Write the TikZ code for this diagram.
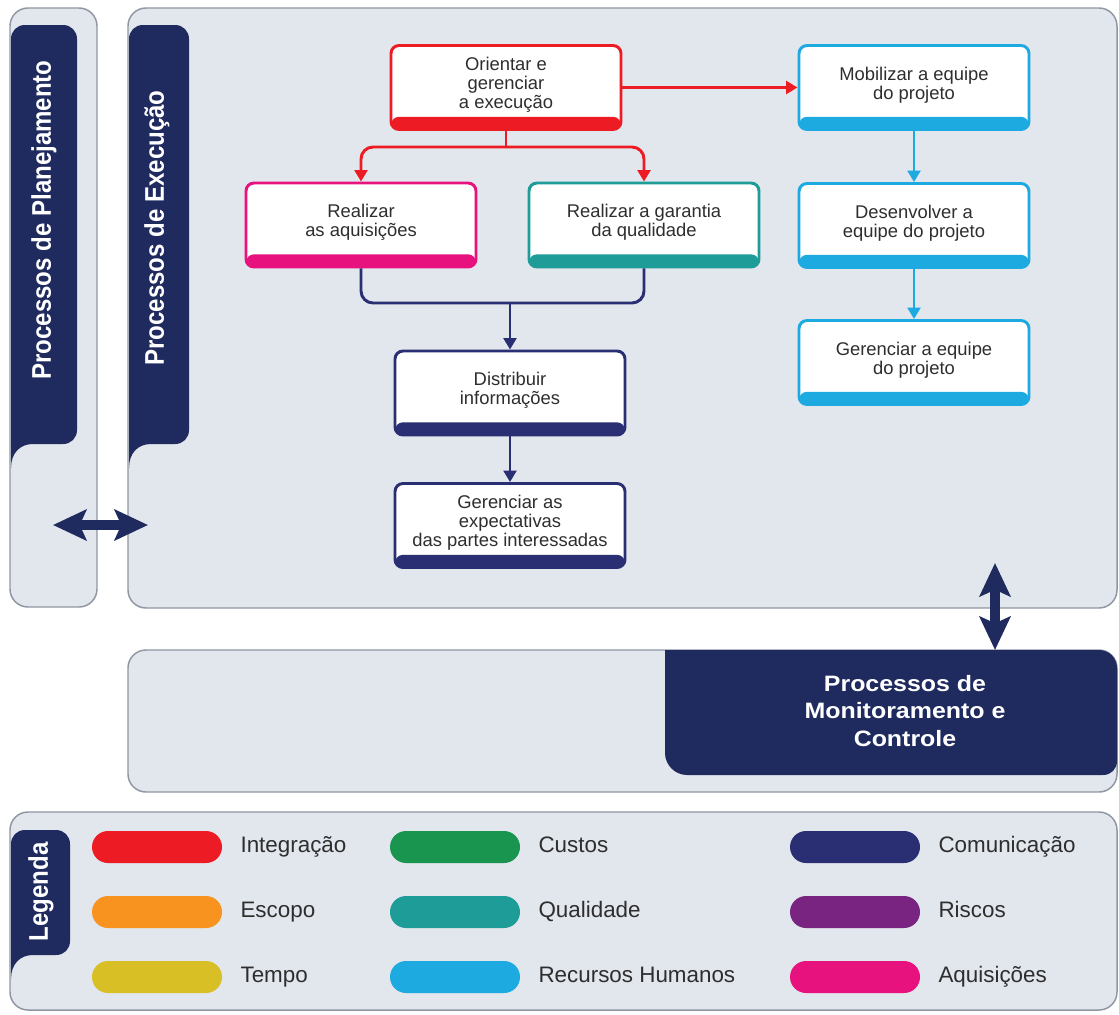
\documentclass[tikz,border=0pt]{standalone}
\usepackage{fontspec}
\setmainfont{Liberation Sans}
\newfontfamily\tabfont[FakeStretch=0.89]{Liberation Sans}
\newfontfamily\mcfont[FakeStretch=1.12]{Liberation Sans}
\usetikzlibrary{arrows.meta}

\definecolor{panelfill}{HTML}{E2E6ED}
\definecolor{panelline}{HTML}{9097A3}
\definecolor{tabnavy}{HTML}{1F2A5E}
\definecolor{boxgray}{HTML}{2E2E2E}
\definecolor{cInteg}{HTML}{ED1C24}
\definecolor{cEscopo}{HTML}{F7931E}
\definecolor{cTempo}{HTML}{D9BF26}
\definecolor{cCustos}{HTML}{1A9550}
\definecolor{cQual}{HTML}{1D9C98}
\definecolor{cRH}{HTML}{1DAAE1}
\definecolor{cComun}{HTML}{2A2E73}
\definecolor{cRiscos}{HTML}{7A2482}
\definecolor{cAquis}{HTML}{E8127E}

% process tab: left, right, top, bottom (flaring into the panel's left edge)
\newcommand{\proctab}[4]{%
  \fill[tabnavy] (#1,{#4+24}) -- (#1,{#3+14})
    .. controls (#1,{#3+6}) and ({#1+6},#3) .. ({#1+14},#3)
    -- ({#2-14},#3) .. controls ({#2-6},#3) and (#2,{#3+6}) .. (#2,{#3+14})
    -- (#2,{#4-14}) .. controls (#2,{#4-6}) and ({#2-6},#4) .. ({#2-14},#4)
    -- ({#1+22},#4) .. controls ({#1+9},#4) and (#1,{#4+9}) .. (#1,{#4+24})
    -- cycle;}

\tikzset{
  panel/.style={fill=panelfill, draw=panelline, line width=1.1pt, rounded corners=13.5pt},
  procbox/.style={rectangle, rounded corners=6pt, draw=#1, line width=2.2pt,
    fill=white, minimum width=172.5pt, minimum height=63pt, inner sep=0pt,
    path picture={\fill[#1] ([yshift=9.5pt]path picture bounding box.south west)
      rectangle (path picture bounding box.south east);}},
  boxtext/.style={font=\fontsize{13.8}{14.3}\selectfont, text=boxgray,
    align=center, yshift=2pt, inner sep=0pt},
  flow/.style={draw=#1, line width=2.2pt, rounded corners=9pt},
  headed/.style={-{Triangle[length=8.5pt,width=9.5pt]}},
  fatarrow/.style={draw=tabnavy, line width=7.5pt,
    {Stealth[length=25pt,width=23pt,inset=5pt]}-{Stealth[length=25pt,width=23pt,inset=5pt]}},
  tabtitle/.style={font=\tabfont\bfseries\fontsize{20.25}{24}\selectfont,
    text=white, rotate=90, inner sep=0pt},
  mctitle/.style={font=\mcfont\bfseries\fontsize{16.7}{20.6}\selectfont,
    text=white, align=center, inner sep=0pt},
  legpill/.style={rectangle, fill=#1, rounded corners=12pt, minimum width=97.5pt,
    minimum height=24pt, inner sep=0pt},
  legtext/.style={font=\fontsize{16.8}{20}\selectfont, text=boxgray,
    anchor=west, inner sep=0pt, text height=12pt, text depth=3.6pt}
}

\begin{document}
\begin{tikzpicture}[x=0.75pt,y=-0.75pt]
\useasboundingbox (0,0) rectangle (1119,1014);
\fill[white] (0,0) rectangle (1119,1014);

% panels
\draw[panel] (10,8) rectangle (97,607);
\draw[panel] (128,8) rectangle (1117,608);
\draw[panel] (128,650) rectangle (1117,792);
\draw[panel] (10,812) rectangle (1117,1010);

% side tabs
\proctab{11}{77}{25}{444}
\proctab{129}{189}{25}{444}
\proctab{11}{70}{830}{955}
\node[tabtitle] (tplan) at (44,220) {Processos de Planejamento};
\node[tabtitle] (texec) at (157,228) {Processos de Execução};
\node[tabtitle] (tleg) at (41,892) {Legenda};

% monitoring block
\fill[tabnavy] (665,650) -- (1099,650) .. controls (1109,650) and (1117,658) .. (1117,668)
  -- (1117,761) .. controls (1117,769) and (1111,775) .. (1103,775)
  -- (687,775) .. controls (675,775) and (665,765) .. (665,753) -- cycle;
\node[mctitle] (tmc) at (905,711) {Processos de\\Monitoramento e\\Controle};

% process boxes
\node[procbox=cInteg, label={[boxtext]center:Orientar e\\gerenciar\\a execução}] (ori) at (506,87.5) {};
\node[procbox=cRH, label={[boxtext]center:Mobilizar a equipe\\do projeto}] (mob) at (914,87.5) {};
\node[procbox=cAquis, label={[boxtext]center:Realizar\\as aquisições}] (aq) at (361,225) {};
\node[procbox=cQual, label={[boxtext]center:Realizar a garantia\\da qualidade}] (gq) at (644,225) {};
\node[procbox=cRH, label={[boxtext]center:Desenvolver a\\equipe do projeto}] (dev) at (914,225.5) {};
\node[procbox=cRH, label={[boxtext]center:Gerenciar a equipe\\do projeto}] (ger) at (914,362.5) {};
\node[procbox=cComun, label={[boxtext]center:Distribuir\\informações}] (dist) at (510,393) {};
\node[procbox=cComun, label={[boxtext]center:Gerenciar as\\expectativas\\das partes interessadas}] (exp) at (510,525.5) {};

% connectors
\coordinate (split) at (506,147);
\coordinate (join) at (510,303);
\draw[flow=cInteg] (ori.south) -- (split);
\draw[flow=cInteg, headed] (split) -| (aq.north);
\draw[flow=cInteg, headed] (split) -| (gq.north);
\draw[flow=cInteg, headed] (ori.east) -- (mob.west);
\draw[flow=cComun] (aq.south) |- (join) -| (gq.south);
\draw[flow=cComun, headed] (join) -- (dist.north);
\draw[flow=cComun, headed] (dist.south) -- (exp.north);
\draw[flow=cRH, headed] (mob.south) -- (dev.north);
\draw[flow=cRH, headed] (dev.south) -- (ger.north);

% links between process groups
\coordinate (planend) at (53,525);
\coordinate (execend) at (148,525);
\coordinate (execlow) at (995,563);
\coordinate (mctop) at (995,650);
\draw[fatarrow] (planend) -- (execend);
\draw[fatarrow] (execlow) -- (mctop);

% legend
\node[legpill=cInteg] (p1) at (157,847) {};
\node[legtext] (l1) at ([xshift=13.5pt]p1.east) {Integração};
\node[legpill=cEscopo] (p2) at (157,912) {};
\node[legtext] (l2) at ([xshift=13.5pt]p2.east) {Escopo};
\node[legpill=cTempo] (p3) at (157,977) {};
\node[legtext] (l3) at ([xshift=13.5pt]p3.east) {Tempo};
\node[legpill=cCustos] (p4) at (455,847) {};
\node[legtext] (l4) at ([xshift=13.5pt]p4.east) {Custos};
\node[legpill=cQual] (p5) at (455,912) {};
\node[legtext] (l5) at ([xshift=13.5pt]p5.east) {Qualidade};
\node[legpill=cRH] (p6) at (455,977) {};
\node[legtext] (l6) at ([xshift=13.5pt]p6.east) {Recursos Humanos};
\node[legpill=cComun] (p7) at (855,847) {};
\node[legtext] (l7) at ([xshift=13.5pt]p7.east) {Comunicação};
\node[legpill=cRiscos] (p8) at (855,912) {};
\node[legtext] (l8) at ([xshift=13.5pt]p8.east) {Riscos};
\node[legpill=cAquis] (p9) at (855,977) {};
\node[legtext] (l9) at ([xshift=13.5pt]p9.east) {Aquisições};
\end{tikzpicture}
\end{document}
